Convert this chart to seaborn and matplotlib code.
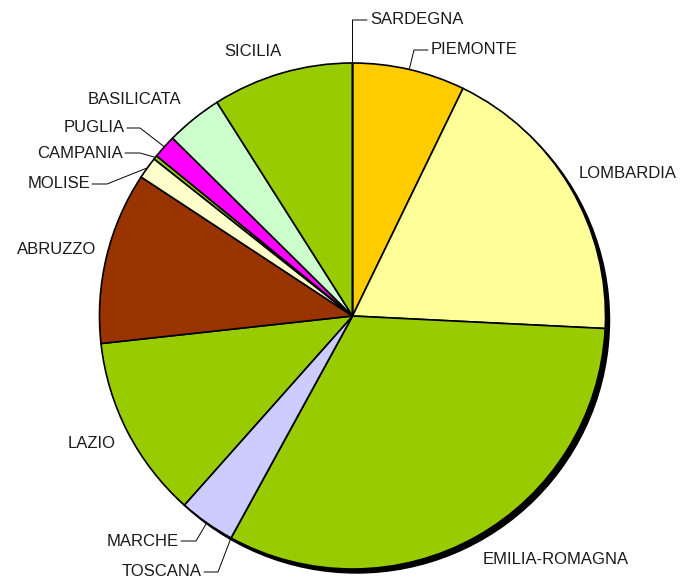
import numpy as np
import matplotlib
matplotlib.use("Agg")
import matplotlib.pyplot as plt
from matplotlib.patches import Circle
import seaborn as sns

# share of each region (percent), clockwise from 12 o'clock
regions = ["PIEMONTE", "LOMBARDIA", "EMILIA-ROMAGNA", "TOSCANA", "MARCHE", "LAZIO",
           "ABRUZZO", "MOLISE", "CAMPANIA", "PUGLIA", "BASILICATA", "SICILIA", "SARDEGNA"]
shares = [7.2, 18.6, 32.2, 0.0, 3.6, 11.7, 11.0, 1.4, 0.25, 1.5, 3.6, 9.0, 0.0]
colors = ["#FFCC00", "#FFFF99", "#99CC00", "#FFFFFF", "#CCCCFF", "#99CC00",
          "#993300", "#FFFFCC", "#99CC00", "#FF00FF", "#CCFFCC", "#99CC00", "#FFFFFF"]

W, H = 682, 580
CX, CY, R = 352.5, 580 - 316, 253

# label layout in pixels from the top-left: (x, y, ha, elbow x or None)
label_pos = {
    "SARDEGNA": (370, 20, "left", 352.5),
    "PIEMONTE": (431, 50, "left", 414),
    "LOMBARDIA": (579, 174, "left", None),
    "EMILIA-ROMAGNA": (483, 560, "left", None),
    "TOSCANA": (202, 572, "right", 218),
    "MARCHE": (179, 541, "right", 196),
    "LAZIO": (68, 443, "left", None),
    "ABRUZZO": (17, 250, "left", None),
    "MOLISE": (90, 184, "right", 107),
    "CAMPANIA": (123, 153, "right", 140),
    "PUGLIA": (125, 128, "right", 140),
    "BASILICATA": (88, 99, "left", None),
    "SICILIA": (224, 51, "left", None),
}

sns.set_theme(style="white")
plt.rcParams["font.family"] = ["Liberation Sans", "DejaVu Sans"]

fig = plt.figure(figsize=(W / 100, H / 100), dpi=100)
ax = fig.add_axes([0, 0, 1, 1])

# drop shadow
ax.add_patch(Circle((CX + 4, CY - 4), R, color="black", zorder=0))

wedges, _ = ax.pie(shares, colors=colors, startangle=90, counterclock=False,
                   center=(CX, CY), radius=R, normalize=True,
                   wedgeprops=dict(edgecolor="black", linewidth=1.2))
for w in wedges:
    w.set_zorder(1)

ax.set_xlim(0, W)
ax.set_ylim(0, H)
ax.set_aspect("equal")
ax.axis("off")

for name, w in zip(regions, wedges):
    x, y, ha, elbow = label_pos[name]
    y = H - y
    ax.text(x, y, name, ha=ha, va="center", fontsize=12, color="#1a1a1a", zorder=3)
    if elbow is None:
        continue
    mid = np.deg2rad((w.theta1 + w.theta2) / 2)
    ax_x = CX + R * np.cos(mid)
    ax_y = CY + R * np.sin(mid)
    start = x - 3 if ha == "left" else x + 2
    ax.plot([start, elbow, ax_x], [y, y, ax_y], color="black", lw=0.7, zorder=3)

fig.savefig("out.png", dpi=100)
